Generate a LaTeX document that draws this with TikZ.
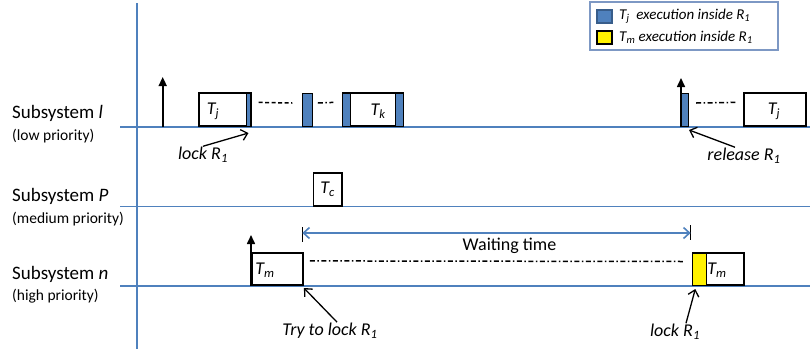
\documentclass[tikz,border=0pt]{standalone}
\usepackage{fontspec}
\setmainfont{Carlito}
\usepackage{tikz}
\usetikzlibrary{arrows.meta,calc}
\definecolor{lineblue}{RGB}{79,129,189}
\definecolor{darkblue}{RGB}{56,93,138}
\definecolor{frameblue}{RGB}{125,152,196}
\newcommand{\sbs}[1]{\textsubscript{#1}}
\tikzstyle{timeline} = [draw=lineblue, line width=1.6pt]
\tikzstyle{taskbox} = [rectangle, draw=black, line width=1.6pt, minimum height=33pt, inner sep=0pt, anchor=south west]
\tikzstyle{critical} = [rectangle, draw=black, line width=1pt, fill=lineblue, minimum height=33pt, inner sep=0pt, anchor=south west]
\tikzstyle{tasklabel} = [font=\fontsize{18}{18}\selectfont\itshape, inner sep=0pt]
\tikzstyle{eventlabel} = [font=\fontsize{18}{18}\selectfont\itshape, inner sep=1pt]
\tikzstyle{sysname} = [anchor=west, inner sep=0pt, font=\fontsize{19}{19}\selectfont]
\tikzstyle{sysprio} = [anchor=west, inner sep=0pt, font=\fontsize{15.5}{15.5}\selectfont]
\tikzstyle{keytext} = [anchor=west, inner sep=0pt, font=\fontsize{15}{15}\selectfont\itshape]
\tikzstyle{arrow} = [line width=1.3pt, -{Straight Barb[length=6pt,width=11pt]}]
\tikzstyle{activation} = [line width=1.6pt, -{Triangle[length=9pt,width=8pt]}]
\tikzstyle{gap} = [line width=1.5pt, dash pattern=on 4pt off 2.5pt]
\tikzstyle{gapdot} = [line width=1.5pt, dash pattern=on 5pt off 2.5pt on 1.5pt off 2.5pt]

\begin{document}
\begin{tikzpicture}[x=1pt,y=-1pt]
\useasboundingbox (0,0) rectangle (810,349);

% time axis and the three subsystem lines
\draw[timeline, line width=2pt] (137,3) -- (137,349);
\draw[timeline] (120,127) -- (810,127);
\draw[timeline] (120,206.5) -- (810,206.5);
\draw[timeline] (120,286) -- (810,286);

\node (subl) [sysname] at (12,113) {Subsystem \textit{l}};
\node (sublprio) [sysprio] at (12,136) {(low priority)};
\node (subp) [sysname] at (12,196) {Subsystem \textit{P}};
\node (subpprio) [sysprio] at (12,219) {(medium priority)};
\node (subn) [sysname] at (12,274) {Subsystem \textit{n}};
\node (subnprio) [sysprio] at (12,296) {(high priority)};

% low priority: T_j locks R_1, gets preempted, releases it later
\coordinate (actl) at (162.7,127);
\draw[activation] (actl) -- ++(0,-50);
\node (tj1) [taskbox, minimum width=52pt] at (198,127) {};
\node (tj1in) [critical, minimum width=4pt] at (246,127) {};
\node [tasklabel] at (213,111) {T\sbs{j}};
\node (jcs) [critical, minimum width=9.5pt] at (302.3,127) {};
\node (tk) [taskbox, minimum width=60pt] at (342.3,127) {};
\node (tkin1) [critical, minimum width=8pt] at (342.3,127) {};
\node (tkin2) [critical, minimum width=8pt] at (394.5,127) {};
\node [tasklabel] at (378,111) {T\sbs{k}};
\draw[gap] ($(tj1.north east)+(7,10)$) -- ($(jcs.north west)+(-10,10)$);
\draw[gapdot] ($(jcs.north east)+(5,10)$) -- ($(tk.north west)+(-9,10)$);

\coordinate (actr) at (681,127);
\node (relin) [critical, minimum width=7pt] at (681,127) {};
\draw[activation] (actr) -- ++(0,-49);
\node (tj2) [taskbox, minimum width=61.7pt] at (743.3,127) {};
\node [tasklabel] at (774,111) {T\sbs{j}};
\draw[gapdot] ($(relin.north east)+(7,10)$) -- ($(tj2.north west)+(-8,10)$);

\node (lockl) [eventlabel] at (203,155) {lock R\sbs{1}};
\node (releasel) [eventlabel] at (744,156) {release R\sbs{1}};
\draw[arrow] ([xshift=0pt]lockl.north) -- ([yshift=-6pt]tj1in.south);
\draw[arrow] ([xshift=-9pt]releasel.north) -- ([yshift=-3pt]relin.south east);

% medium priority
\node (tc) [taskbox, minimum width=28.3pt] at (312.7,206.5) {};
\node [tasklabel] at (tc.center) {T\sbs{c}};

% high priority: T_m blocked on R_1
\coordinate (actn) at (251,286);
\draw[activation] (actn) -- ++(0,-51);
\node (tm1) [taskbox, minimum width=51.3pt, minimum height=32.5pt] at (251,286) {};
\node [tasklabel] at (265,270) {T\sbs{m}};
\node (tm2) [taskbox, minimum width=51pt, minimum height=32.5pt] at (692.3,286) {};
\node (tmin) [critical, fill=yellow, minimum width=13.4pt, minimum height=32.5pt] at (692.3,286) {};
\node [tasklabel] at (717,270) {T\sbs{m}};
\draw[gapdot] ($(tm1.north east)+(6,9)$) -- ($(tmin.north west)+(-7,9)$);

\coordinate (waitA) at (302.3,233);
\coordinate (waitB) at (690.7,233);
\draw[line width=1.2pt] ($(waitA)+(0,-6)$) -- ($(waitA)+(0,9)$);
\draw[line width=1.2pt] ($(waitB)+(0,-8)$) -- ($(waitB)+(0,7)$);
\draw[timeline, {Straight Barb[length=6pt,width=11pt]}-{Straight Barb[length=6pt,width=11pt]}] (waitA) -- (waitB);
\node (wait) [font=\fontsize{18}{18}\selectfont] at (509.5,246) {Waiting time};

\node (trylock) [eventlabel] at (330,331) {Try to lock R\sbs{1}};
\node (lockn) [eventlabel] at (675,332) {lock R\sbs{1}};
\draw[arrow] ([xshift=7pt]trylock.north) -- ([yshift=-2pt]tm1.south east);
\draw[arrow] ([xshift=11pt]lockn.north) -- ([xshift=3pt,yshift=-3pt]tmin.south west);

% legend
\node (legend) [draw=frameblue, line width=1.2pt, minimum width=188pt, minimum height=48pt, inner sep=0pt] at (684,26) {};
\node (keyj) [draw=darkblue, line width=1.2pt, fill=lineblue, minimum width=15pt, minimum height=13pt, inner sep=0pt] at (604.5,16.5) {};
\node (keym) [draw=black, line width=1.2pt, fill=yellow, minimum width=15pt, minimum height=13pt, inner sep=0pt] at (604.5,37.5) {};
\node [keytext] at (619,16.5) {T\sbs{j}\ \ execution inside R\sbs{1}};
\node [keytext] at (619,37.5) {T\sbs{m} execution inside R\sbs{1}};
\end{tikzpicture}
\end{document}
